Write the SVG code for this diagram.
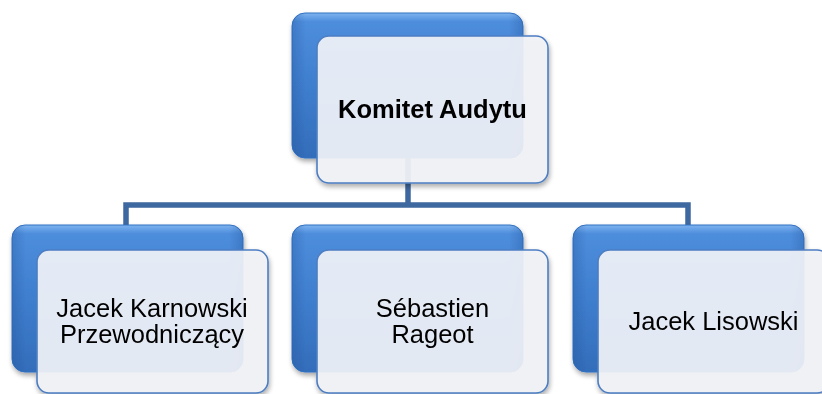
<svg xmlns="http://www.w3.org/2000/svg" width="822" height="394" viewBox="0 0 822 394">
  <defs>
    <linearGradient id="blueFace" x1="0" y1="0" x2="0" y2="1">
      <stop offset="0" stop-color="#7eb3f0"/>
      <stop offset="0.06" stop-color="#4d8ddc"/>
      <stop offset="0.5" stop-color="#3f7ece"/>
      <stop offset="1" stop-color="#336dba"/>
    </linearGradient>
    <linearGradient id="blueSide" x1="0" y1="0" x2="1" y2="0">
      <stop offset="0" stop-color="#1f4f94" stop-opacity="0.3"/>
      <stop offset="0.06" stop-color="#1f4f94" stop-opacity="0"/>
      <stop offset="0.94" stop-color="#1f4f94" stop-opacity="0"/>
      <stop offset="1" stop-color="#1f4f94" stop-opacity="0.3"/>
    </linearGradient>
    <filter id="shadow" x="-10%" y="-10%" width="125%" height="130%">
      <feGaussianBlur in="SourceAlpha" stdDeviation="2.5"/>
      <feOffset dx="1" dy="3" result="b"/>
      <feComponentTransfer><feFuncA type="linear" slope="0.35"/></feComponentTransfer>
      <feMerge><feMergeNode/><feMergeNode in="SourceGraphic"/></feMerge>
    </filter>
  </defs>
  <style>
    .back { fill: url(#blueFace); stroke: #3472c2; stroke-width: 1; }
    .bevel { fill: url(#blueSide); }
    .front { fill: #f2f3f7; fill-opacity: 0.92; stroke: #4d7ec2; stroke-width: 1.6; }
    .wire { fill: none; stroke: #3e68a0; stroke-width: 5.5; stroke-linejoin: miter; }
    .lbl { font-family: "Liberation Sans", Arial, sans-serif; font-size: 25.5px; fill: #000; text-anchor: middle; }
    .bold { font-weight: bold; }
  </style>

  <!-- connectors -->
  <g id="connectors">
    <path class="wire" d="M408,150 V205"/>
    <path class="wire" d="M126,226 V205 H688 V226"/>
  </g>

  <!-- root -->
  <g id="komitet" filter="url(#shadow)">
    <rect class="back" x="292" y="13" width="231" height="145" rx="13"/>
    <rect class="bevel" x="292" y="13" width="231" height="145" rx="13"/>
    <rect class="front" x="317" y="36" width="231" height="147" rx="12"/>
    <text class="lbl bold" x="432.5" y="118">Komitet Audytu</text>
  </g>

  <!-- members -->
  <g id="karnowski" filter="url(#shadow)">
    <rect class="back" x="12" y="225" width="231" height="147" rx="13"/>
    <rect class="bevel" x="12" y="225" width="231" height="147" rx="13"/>
    <rect class="front" x="37" y="250" width="231" height="143" rx="12"/>
    <text class="lbl" x="152" y="317">Jacek Karnowski</text>
    <text class="lbl" x="152" y="343">Przewodniczący</text>
  </g>

  <g id="rageot" filter="url(#shadow)">
    <rect class="back" x="292" y="225" width="231" height="147" rx="13"/>
    <rect class="bevel" x="292" y="225" width="231" height="147" rx="13"/>
    <rect class="front" x="317" y="250" width="231" height="143" rx="12"/>
    <text class="lbl" x="432.5" y="317">Sébastien</text>
    <text class="lbl" x="432.5" y="343">Rageot</text>
  </g>

  <g id="lisowski" filter="url(#shadow)">
    <rect class="back" x="573" y="225" width="231" height="147" rx="13"/>
    <rect class="bevel" x="573" y="225" width="231" height="147" rx="13"/>
    <rect class="front" x="598" y="250" width="231" height="143" rx="12"/>
    <text class="lbl" x="713.5" y="330">Jacek Lisowski</text>
  </g>
</svg>
